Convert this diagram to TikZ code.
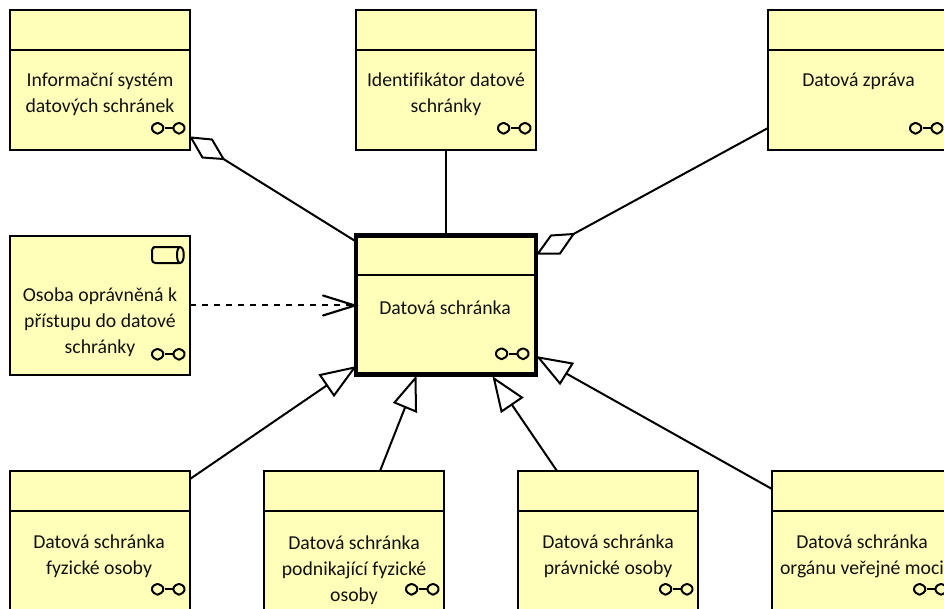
\documentclass[tikz,border=0pt]{standalone}
\usepackage{fontspec}
\setmainfont[Ligatures=NoCommon]{Carlito}
\usetikzlibrary{calc}
\definecolor{elemfill}{HTML}{FFFFB9}
\definecolor{txt}{HTML}{111111}
\tikzset{
  x=0.75pt,y=-0.75pt,
  elem/.style={draw=black,fill=elemfill,line width=1.6pt,minimum width=135pt,minimum height=105pt,inner sep=0pt,outer sep=0pt},
  short/.style={minimum height=104.25pt},
  focus/.style={elem,short,line width=3.2pt},
  label/.style={align=center,inner sep=0pt,text=txt,font=\fontsize{14.8}{19.5}\selectfont},
  divider/.style={draw=black,line width=1.4pt},
  conn/.style={draw=black,line width=1.5pt},
  head/.style={draw=black,fill=white,line width=1.5pt,line join=miter},
  dep/.style={conn,dash pattern=on 4.5pt off 4.5pt},
  icon/.style={draw=black,line width=1.5pt,line join=round},
}
\newcommand\Glasses[2]{%
  \begin{scope}[shift={($(#1.north east)+(#2,118)$)}]
    \draw[icon,rounded corners=1.5pt] (-34,0) -- (-30,-5) -- (-25,-5) -- (-20.5,0) -- (-25,5.5) -- (-30,5.5) -- cycle;
    \draw[icon,rounded corners=1.5pt] (-12.5,0) -- (-8.5,-5) -- (-3.5,-5) -- (0.5,0) -- (-3.5,5.5) -- (-8.5,5.5) -- cycle;
    \draw[icon] (-20.5,0) -- (-12.5,0);
  \end{scope}}
\begin{document}
\begin{tikzpicture}
\clip (0,0) rectangle (944,608);
% elements
\node[elem] (info) at (100,80) {};
\node[elem] (ident) at (446,80) {};
\node[elem] (zprava) at (858,80) {};
\node[elem,short] (osoba) at (100,305.5) {};
\node[focus] (central) at (446,305) {};
\node[elem] (fyz) at (100,541) {};
\node[elem] (podn) at (354,541) {};
\node[elem] (prav) at (608,541) {};
\node[elem] (org) at (862,541) {};
% dividers
\foreach \b in {info,ident,zprava,fyz,podn,prav,org}
  \draw[divider] ($(\b.north west)+(0,40)$) -- ($(\b.north east)+(0,40)$);
\draw[divider] ($(central.north west)+(0,39.5)$) -- ($(central.north east)+(0,39.5)$);
% labels
\node[label] (tinfo) at (100,94) {Informační systém\\datových schránek};
\node[label] (tident) at (446,94) {Identifikátor datové\\schránky};
\node[label] (tzprava) at (858.5,81) {Datová zpráva};
\node[label] (tosoba) at (100,322) {Osoba oprávněná k\\přístupu do datové\\schránky};
\node[label] (tcentral) at (445,308) {Datová schránka};
\node[label] (tfyz) at (99,556) {Datová schránka\\fyzické osoby};
\node[label] (tpodn) at (354,570) {Datová schránka\\podnikající fyzické\\osoby};
\node[label] (tprav) at (608,556) {Datová schránka\\právnické osoby};
\node[label] (torg) at (862,556) {Datová schránka\\orgánu veřejné moci};
% icons
\Glasses{info}{-5}
\Glasses{ident}{-5}
\Glasses{zprava}{-5}
\Glasses{osoba}{-5}
\Glasses{central}{-7}
\Glasses{fyz}{-5}
\Glasses{podn}{-5}
\Glasses{prav}{-5}
\Glasses{org}{-5}
\draw[icon,rounded corners=2.5pt] (180,247) -- (157,247) -- (152,247) -- (152,263) -- (180,263);
\draw[icon] (180,247) .. controls (176,247) and (176,263) .. (180,263) .. controls (185,263) and (185,247) .. (180,247);
% connector end points at the heads
\coordinate (d1a) at (191,137.5);
\coordinate (d1b) at (212,139.5);
\coordinate (d1c) at (223.5,159);
\coordinate (d1d) at (202.5,157.5);
\coordinate (d2a) at (538,253.5);
\coordinate (d2b) at (560,253.5);
\coordinate (d2c) at (573.5,234);
\coordinate (d2d) at (551,235.5);
\coordinate (t1a) at (354.5,367.5);
\coordinate (t1b) at (320,375);
\coordinate (t1c) at (334,395.5);
\coordinate (t2a) at (415.5,378);
\coordinate (t2b) at (394.5,402.5);
\coordinate (t2c) at (416,411.5);
\coordinate (t3a) at (494,378.5);
\coordinate (t3b) at (522,397.5);
\coordinate (t3c) at (501.5,411.5);
\coordinate (t4a) at (538.5,357.5);
\coordinate (t4b) at (572.5,363.5);
\coordinate (t4c) at (560,383.5);
% connectors
\draw[conn] (ident.south) -- (ident.south |- central.north);
\draw[conn] (d1c) -- ($(central.north west)+(0,6)$);
\draw[conn] (d2c) -- ($(zprava.north west)+(0,118)$);
\draw[dep] ($(osoba.north east)+(0,69)$) -- ($(central.north west)+(-2,69.5)$);
\draw[conn,line width=1.6pt,line cap=round] ($(central.north west)+(-33,60)$) -- ($(central.north west)+(-1,70)$) -- ($(central.north west)+(-33,80)$);
\draw[conn] ($(fyz.north east)+(0,8)$) -- ($(t1b)!.5!(t1c)$);
\draw[conn] ($(podn.north west)+(116,0)$) -- ($(t2b)!.5!(t2c)$);
\draw[conn] ($(prav.north west)+(39,0)$) -- ($(t3b)!.5!(t3c)$);
\draw[conn] ($(org.north west)+(0,18)$) -- ($(t4b)!.5!(t4c)$);
% heads
\draw[head] (d1a) -- (d1b) -- (d1c) -- (d1d) -- cycle;
\draw[head] (d2a) -- (d2b) -- (d2c) -- (d2d) -- cycle;
\draw[head] (t1a) -- (t1b) -- (t1c) -- cycle;
\draw[head] (t2a) -- (t2b) -- (t2c) -- cycle;
\draw[head] (t3a) -- (t3b) -- (t3c) -- cycle;
\draw[head] (t4a) -- (t4b) -- (t4c) -- cycle;
\end{tikzpicture}
\end{document}
